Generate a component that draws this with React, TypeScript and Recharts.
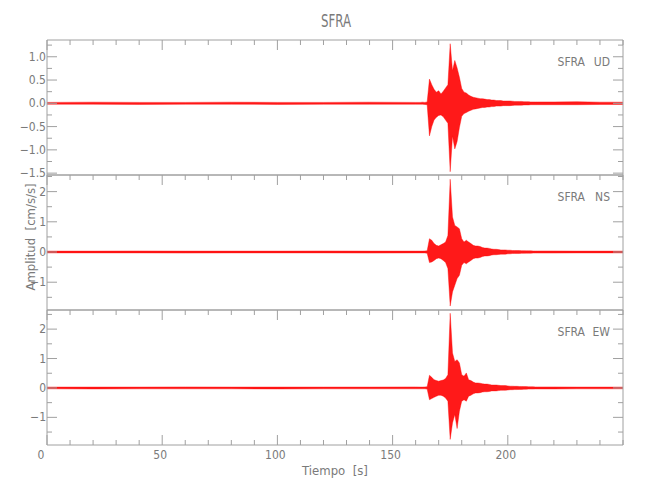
import { AreaChart, Area, XAxis, YAxis } from "recharts";

// sample times (s) for the envelope arrays below
const TIME = [
  0, 20, 40, 60, 80, 100, 120, 140, 160,
  162, 163, 164, 165,
  166, 167, 168, 169, 170, 171, 172, 173, 174,
  175, 176, 177, 178, 179,
  180, 181, 182, 183, 184, 185, 186, 187, 188, 189,
  190, 191, 192, 193, 194, 195, 196, 197, 198, 199,
  200, 201, 202, 203, 204, 205, 206, 207, 208, 209,
  210, 211, 212, 213, 214,
  220, 230, 240, 250,
];

// upper / lower envelope of each trace, cm/s/s
const UD_HI = [
  0.02, 0.025, 0.02, 0.02, 0.025, 0.02, 0.02, 0.025, 0.02,
  0.02, 0.025, 0.02, 0.03,
  0.52, 0.4, 0.3, 0.24, 0.27, 0.2, 0.26, 0.33, 0.4,
  1.28, 0.7, 0.92, 0.76, 0.56,
  0.32, 0.24, 0.22, 0.18, 0.15, 0.13, 0.12, 0.11, 0.1, 0.1,
  0.09, 0.08, 0.08, 0.07, 0.07, 0.06, 0.06, 0.06, 0.05, 0.05,
  0.05, 0.05, 0.045, 0.04, 0.04, 0.04, 0.04, 0.035, 0.035, 0.035,
  0.03, 0.03, 0.03, 0.03, 0.03,
  0.03, 0.035, 0.025, 0.025,
];
const UD_LO = [
  -0.02, -0.02, -0.025, -0.02, -0.02, -0.025, -0.02, -0.02, -0.02,
  -0.02, -0.02, -0.025, -0.03,
  -0.7, -0.5, -0.36, -0.3, -0.26, -0.25, -0.29, -0.36, -0.43,
  -1.47, -0.7, -0.98, -0.82, -0.52,
  -0.28, -0.22, -0.2, -0.17, -0.15, -0.13, -0.12, -0.11, -0.1, -0.09,
  -0.09, -0.08, -0.08, -0.07, -0.07, -0.06, -0.06, -0.06, -0.05, -0.05,
  -0.05, -0.05, -0.045, -0.04, -0.04, -0.04, -0.04, -0.035, -0.035, -0.035,
  -0.03, -0.03, -0.03, -0.03, -0.03,
  -0.03, -0.03, -0.025, -0.025,
];
const NS_HI = [
  0.03, 0.03, 0.035, 0.03, 0.03, 0.03, 0.035, 0.03, 0.03,
  0.03, 0.03, 0.035, 0.04,
  0.44, 0.39, 0.28, 0.22, 0.2, 0.24, 0.28, 0.33, 0.55,
  2.41, 1.16, 0.88, 0.83, 0.77,
  0.44, 0.33, 0.39, 0.33, 0.28, 0.22, 0.2, 0.2, 0.18, 0.15,
  0.13, 0.13, 0.12, 0.1, 0.09, 0.09, 0.08, 0.07, 0.07, 0.07,
  0.06, 0.06, 0.05, 0.05, 0.05, 0.05, 0.045, 0.045, 0.04, 0.04,
  0.04, 0.035, 0.035, 0.035, 0.035,
  0.035, 0.03, 0.03, 0.03,
];
const NS_LO = [
  -0.03, -0.03, -0.03, -0.035, -0.03, -0.03, -0.03, -0.035, -0.03,
  -0.03, -0.03, -0.03, -0.04,
  -0.35, -0.33, -0.28, -0.22, -0.2, -0.22, -0.28, -0.35, -0.55,
  -1.79, -1.32, -1.1, -0.88, -0.77,
  -0.44, -0.35, -0.39, -0.33, -0.28, -0.22, -0.2, -0.2, -0.18, -0.15,
  -0.13, -0.13, -0.12, -0.1, -0.09, -0.09, -0.08, -0.07, -0.07, -0.07,
  -0.06, -0.06, -0.05, -0.05, -0.05, -0.05, -0.045, -0.045, -0.04, -0.04,
  -0.04, -0.035, -0.035, -0.035, -0.035,
  -0.035, -0.03, -0.03, -0.03,
];
const EW_HI = [
  0.03, 0.03, 0.03, 0.035, 0.03, 0.03, 0.03, 0.03, 0.035,
  0.03, 0.03, 0.035, 0.04,
  0.43, 0.36, 0.28, 0.25, 0.23, 0.25, 0.27, 0.32, 0.45,
  2.54, 1.19, 0.9, 0.96, 0.85,
  0.45, 0.4, 0.51, 0.28, 0.25, 0.2, 0.17, 0.17, 0.16, 0.14,
  0.13, 0.13, 0.12, 0.1, 0.1, 0.1, 0.09, 0.08, 0.08, 0.08,
  0.07, 0.06, 0.06, 0.055, 0.055, 0.05, 0.05, 0.045, 0.045, 0.04,
  0.04, 0.04, 0.035, 0.035, 0.035,
  0.035, 0.03, 0.03, 0.03,
];
const EW_LO = [
  -0.03, -0.035, -0.03, -0.03, -0.03, -0.035, -0.03, -0.03, -0.03,
  -0.03, -0.03, -0.03, -0.04,
  -0.4, -0.36, -0.32, -0.28, -0.25, -0.25, -0.28, -0.34, -0.45,
  -1.75, -1.19, -0.9, -1.38, -0.79,
  -0.45, -0.4, -0.45, -0.28, -0.25, -0.2, -0.17, -0.17, -0.16, -0.14,
  -0.13, -0.13, -0.12, -0.1, -0.1, -0.1, -0.09, -0.08, -0.08, -0.08,
  -0.07, -0.06, -0.06, -0.055, -0.055, -0.05, -0.05, -0.045, -0.045, -0.04,
  -0.04, -0.04, -0.035, -0.035, -0.035,
  -0.035, -0.03, -0.03, -0.03,
];

const X_TICKS = [0, 10, 20, 30, 40, 50, 60, 70, 80, 90, 100, 110, 120, 130, 140, 150, 160, 170, 180, 190, 200, 210, 220, 230, 240, 250];
const X_MAJOR = [0, 50, 100, 150, 200];

const UD_MAJOR = [-1.5, -1, -0.5, 0, 0.5, 1];
const UD_MINOR = [-1.25, -0.75, -0.25, 0.25, 0.75, 1.25];
const NS_MAJOR = [-1, 0, 1, 2];
const NS_MINOR = [-1.5, -0.5, 0.5, 1.5, 2.5];
const EW_MAJOR = [-1, 0, 1, 2];
const EW_MINOR = [-1.5, -0.5, 0.5, 1.5, 2.5];

const W = 650;
const H = 500;
const LEFT = 47;
const RIGHT = 623;
const AXIS = "#a0a0a0";
const INK = "#7a7a7a";
const FONT = "'DejaVu Sans Condensed', 'DejaVu Sans', sans-serif";

const minus = (s: string) => s.replace("-", "\u2212");

function Panel({ top, bottom, domain, major, minor, hi, lo, comp, fmt, last }: any) {
  const data = TIME.map((t, i) => ({ t, band: [lo[i], hi[i]] }));
  const yTicks = [...major, ...minor];
  const isMajor = (v: number) => major.some((m: number) => Math.abs(m - v) < 1e-6);

  const bottomTick = (p: any) => {
    const v = p.payload.value;
    const big = X_MAJOR.includes(v);
    if (!last) return <g />;
    return (
      <g>
        <line x1={p.x} x2={p.x} y1={bottom} y2={bottom - (big ? 10 : 5)} stroke={AXIS} />
        {big && (
          <text x={p.x - (v === 0 ? 6 : 2)} y={459} textAnchor="middle" fontSize={12} fill={INK} fontFamily={FONT}>
            {v}
          </text>
        )}
      </g>
    );
  };
  const topTick = (p: any) => {
    const big = X_MAJOR.includes(p.payload.value);
    return <line x1={p.x} x2={p.x} y1={top} y2={top + (big ? 10 : 5)} stroke={AXIS} />;
  };
  const leftTick = (p: any) => {
    const v = p.payload.value;
    const big = isMajor(v);
    return (
      <g>
        <line x1={LEFT} x2={LEFT + (big ? 10 : 5)} y1={p.y} y2={p.y} stroke={AXIS} />
        {big && (
          <text x={46} y={p.y + 4} textAnchor="end" fontSize={12} fill={INK} fontFamily={FONT}>
            {minus(fmt(v))}
          </text>
        )}
      </g>
    );
  };
  const rightTick = (p: any) => {
    const big = isMajor(p.payload.value);
    return <line x1={RIGHT} x2={RIGHT - (big ? 10 : 5)} y1={p.y} y2={p.y} stroke={AXIS} />;
  };

  // axes need a size of at least 1px to be drawn, so the margins give that pixel back
  return (
    <div style={{ position: "absolute", left: 0, top: 0 }}>
      <AreaChart width={W} height={H} data={data}
        margin={{ top: top - 1, bottom: H - bottom - 1, left: LEFT - 1, right: W - RIGHT - 1 }}>
        <XAxis xAxisId="b" dataKey="t" type="number" domain={[0, 250]} ticks={X_TICKS} interval={0} height={1}
          orientation="bottom" axisLine={{ stroke: AXIS }} tickLine={false} tick={bottomTick} />
        <XAxis xAxisId="t" dataKey="t" type="number" domain={[0, 250]} ticks={X_TICKS} interval={0} height={1}
          orientation="top" axisLine={{ stroke: AXIS }} tickLine={false} tick={topTick} />
        <YAxis yAxisId="l" type="number" domain={domain} ticks={yTicks} interval={0} width={1}
          orientation="left" axisLine={{ stroke: AXIS }} tickLine={false} tick={leftTick} allowDataOverflow />
        <YAxis yAxisId="r" type="number" domain={domain} ticks={yTicks} interval={0} width={1}
          orientation="right" axisLine={{ stroke: AXIS }} tickLine={false} tick={rightTick} allowDataOverflow />
        <Area xAxisId="b" yAxisId="l" dataKey="band" type="linear" stroke="#ff0000" strokeWidth={0.4}
          fill="#ff0000" fillOpacity={0.9} dot={false} activeDot={false} isAnimationActive={false} />
      </AreaChart>
      <svg width={W} height={H} style={{ position: "absolute", left: 0, top: 0, pointerEvents: "none" }}>
        <text x={585} y={top + 26} textAnchor="end" fontSize={12} fill={INK} fontFamily={FONT}>SFRA</text>
        <text x={610} y={top + 26} textAnchor="end" fontSize={12} fill={INK} fontFamily={FONT}>{comp}</text>
      </svg>
    </div>
  );
}

export default function App() {
  return (
    <div style={{ position: "absolute", left: 0, top: 0, width: W, height: H, background: "#fff" }}>
      <Panel top={40} bottom={175} domain={[-1.54, 1.36]} major={UD_MAJOR} minor={UD_MINOR}
        hi={UD_HI} lo={UD_LO} comp="UD" fmt={(v: number) => v.toFixed(1)} />
      <Panel top={175} bottom={310} domain={[-1.92, 2.55]} major={NS_MAJOR} minor={NS_MINOR}
        hi={NS_HI} lo={NS_LO} comp="NS" fmt={(v: number) => String(v)} />
      <Panel top={310} bottom={445} domain={[-1.94, 2.65]} major={EW_MAJOR} minor={EW_MINOR}
        hi={EW_HI} lo={EW_LO} comp="EW" fmt={(v: number) => String(v)} last />
      <svg width={W} height={H} style={{ position: "absolute", left: 0, top: 0, pointerEvents: "none" }}>
        <text x={336} y={27} textAnchor="middle" fontSize={18} fill={INK} fontFamily={FONT}
          textLength={30} lengthAdjust="spacingAndGlyphs">
          SFRA
        </text>
        <text x={335} y={475} textAnchor="middle" fontSize={13} fill={INK} fontFamily={FONT} xmlSpace="preserve">
          Tiempo  [s]
        </text>
        <text x={0} y={0} transform="translate(35 237) rotate(-90)" textAnchor="middle" fontSize={13} fill={INK}
          fontFamily={FONT} xmlSpace="preserve">
          Amplitud  [cm/s/s]
        </text>
      </svg>
    </div>
  );
}
